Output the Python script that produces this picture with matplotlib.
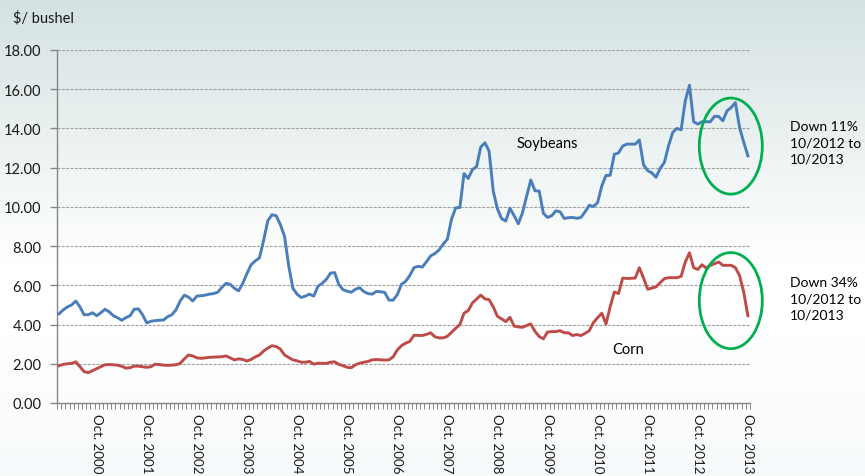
import numpy as np
import matplotlib
matplotlib.use('Agg')
import matplotlib.pyplot as plt
from matplotlib.patches import Ellipse

plt.rcParams['font.family'] = ['Lato', 'DejaVu Sans']

# ================================================== DATA
# monthly prices in $/bushel, Jan 2000 .. Oct 2013

soybeans = [
    4.55, 4.75, 4.90, 5.00, 5.20, 4.90, 4.50, 4.50, 4.60, 4.45, 4.60, 4.78,
    4.65, 4.45, 4.35, 4.22, 4.35, 4.45, 4.78, 4.80, 4.50, 4.08, 4.17, 4.20,
    4.22, 4.23, 4.40, 4.50, 4.75, 5.20, 5.50, 5.40, 5.20, 5.45,
    5.47, 5.50, 5.55, 5.58, 5.65, 5.90, 6.10, 6.05, 5.85, 5.72, 6.10, 6.60,
    7.05, 7.25, 7.40, 8.30, 9.30, 9.60, 9.55, 9.10, 8.50, 7.00, 5.85, 5.55,
    5.38, 5.45, 5.55, 5.45, 5.95, 6.10, 6.30, 6.62, 6.65, 6.05,
    5.78, 5.70, 5.65, 5.80, 5.88, 5.68, 5.58, 5.55, 5.69, 5.67, 5.64, 5.25,
    5.24, 5.52, 6.05, 6.20, 6.50, 6.90, 6.97, 6.93, 7.20, 7.50, 7.62, 7.80,
    8.10, 8.35, 9.37, 9.95, 9.97, 11.70, 11.45, 11.90, 12.05, 13.05, 13.27, 12.85,
    10.80, 9.90, 9.40, 9.28, 9.93, 9.55, 9.14, 9.70, 10.55, 11.37, 10.82, 10.81,
    9.68, 9.46, 9.55, 9.80, 9.75, 9.41, 9.45, 9.46, 9.42, 9.46, 9.75, 10.08,
    10.02, 10.22, 11.07, 11.60, 11.61, 12.68,
    12.75, 13.10, 13.20, 13.20, 13.20, 13.41, 12.14, 11.85, 11.73, 11.51, 11.97, 12.27,
    13.12, 13.80, 14.00, 13.93, 15.41, 16.20, 14.34, 14.22, 14.34, 14.34, 14.34, 14.62,
    14.61, 14.39, 14.90, 15.07, 15.32, 14.05, 13.30, 12.60,
]

corn = [
    1.90, 1.97, 2.00, 2.02, 2.10, 1.85, 1.60, 1.55, 1.65, 1.75, 1.85, 1.95,
    1.96, 1.95, 1.93, 1.87, 1.78, 1.80, 1.88, 1.88, 1.85, 1.82, 1.85, 1.98,
    1.96, 1.93, 1.92, 1.93, 1.95, 2.02, 2.25, 2.45, 2.40, 2.30,
    2.28, 2.30, 2.33, 2.34, 2.35, 2.36, 2.40, 2.30, 2.20, 2.25, 2.22, 2.14,
    2.22, 2.35, 2.45, 2.65, 2.80, 2.92, 2.88, 2.75, 2.45, 2.32, 2.20, 2.15,
    2.08, 2.08, 2.12, 1.98, 2.03, 2.02, 2.02, 2.08, 2.10, 1.97,
    1.90, 1.82, 1.80, 1.95, 2.03, 2.08, 2.12, 2.20, 2.22, 2.20, 2.19, 2.20,
    2.35, 2.70, 2.92, 3.05, 3.14, 3.45, 3.45, 3.44, 3.50, 3.58, 3.38, 3.32,
    3.32, 3.40, 3.60, 3.81, 4.00, 4.58, 4.71, 5.10, 5.30, 5.50, 5.31, 5.27,
    4.90, 4.42, 4.29, 4.15, 4.37, 3.92, 3.88, 3.86, 3.95, 4.03, 3.65, 3.39,
    3.27, 3.62, 3.64, 3.64, 3.69, 3.58, 3.58, 3.44, 3.49, 3.44, 3.55, 3.69,
    4.10, 4.35, 4.58, 4.03, 4.90, 5.66,
    5.58, 6.37, 6.35, 6.36, 6.37, 6.90, 6.37, 5.80, 5.86, 5.92, 6.14, 6.34,
    6.39, 6.39, 6.39, 6.46, 7.19, 7.66, 6.90, 6.81, 7.05, 6.88, 7.02, 7.10,
    7.19, 7.02, 7.02, 7.02, 6.90, 6.50, 5.65, 4.45,
]

years = list(range(2000, 2014))
year_labels = ['Oct. %d' % y for y in years]
y_ticks = [0, 2, 4, 6, 8, 10, 12, 14, 16, 18]

months = np.arange(len(soybeans))
oct_pos = [9 + 12 * i for i in range(len(years))]

# ================================================== FIGURE + BACKGROUND

fig = plt.figure(figsize=(8.65, 4.77), dpi=100)

bg = fig.add_axes([0, 0, 1, 1], zorder=-10)
grad = np.linspace(0, 1, 256)
top = np.array([0.835, 0.886, 0.886])
col = np.clip(grad / 0.55, 0, 1)[:, None] * (1 - top) + top
col[180:] = col[180:] - np.linspace(0, 0.03, 76)[:, None] * np.array([1.0, 0.6, 0.4])
bg.imshow(col[:, None, :], aspect='auto', extent=[0, 1, 0, 1])
bg.axis('off')

ax = fig.add_axes([57 / 865, 73 / 477, 693 / 865, 353 / 477])
ax.set_facecolor('none')

# ================================================== LINES

ax.plot(months, soybeans, color='#4a7ebb', lw=2.1, solid_joinstyle='round', zorder=3)
ax.plot(months, corn, color='#be4b48', lw=2.1, solid_joinstyle='round', zorder=3)

# ================================================== AXES FORMAT

ax.set_xlim(-0.5, len(months) - 0.5)
ax.set_ylim(0, 18)

ax.set_yticks(y_ticks)
ax.set_yticklabels(['%.2f' % v for v in y_ticks])
ax.set_xticks(oct_pos)
ax.set_xticklabels(year_labels, rotation=-90, va='top', ha='center')
ax.set_xticks(np.arange(-0.5, len(months), 1), minor=True)

ax.tick_params(axis='y', length=5, width=1, color='#868686', pad=6,
               labelsize=10.5, labelcolor='#1a1a1a')
ax.tick_params(axis='x', which='major', length=0, pad=7,
               labelsize=9.6, labelcolor='#1a1a1a')
ax.tick_params(axis='x', which='minor', length=4, width=0.7, color='#868686')

for s in ['top', 'right']:
    ax.spines[s].set_visible(False)
for s in ['left', 'bottom']:
    ax.spines[s].set_color('#868686')
    ax.spines[s].set_linewidth(1)

for v in y_ticks[1:]:
    ax.axhline(v, color='#a0a0a0', lw=0.8, linestyle=(0, (2.7, 1.2)), zorder=1)

# ================================================== ANNOTATIONS

ax.text(117, 13.27, 'Soybeans', fontsize=10.5, ha='center', va='center')
ax.text(136.4, 2.76, 'Corn', fontsize=10.5, ha='center', va='center')

ax.add_patch(Ellipse((160.9, 13.1), 15.1, 4.9, fill=False,
                     edgecolor='#00b050', lw=2, zorder=4, clip_on=False))
ax.add_patch(Ellipse((160.9, 5.22), 15.1, 4.9, fill=False,
                     edgecolor='#00b050', lw=2, zorder=4, clip_on=False))

ax.text(175, 14.45, 'Down 11%\n10/2012 to\n10/2013', fontsize=10,
        ha='left', va='top', linespacing=1.45, clip_on=False)
ax.text(175, 6.5, 'Down 34%\n10/2012 to\n10/2013', fontsize=10,
        ha='left', va='top', linespacing=1.45, clip_on=False)

fig.text(13 / 865, 1 - 18 / 477, '$/ bushel', fontsize=10.5,
         ha='left', va='center', color='#1a1a1a')

fig.savefig('out.png', dpi=100)
